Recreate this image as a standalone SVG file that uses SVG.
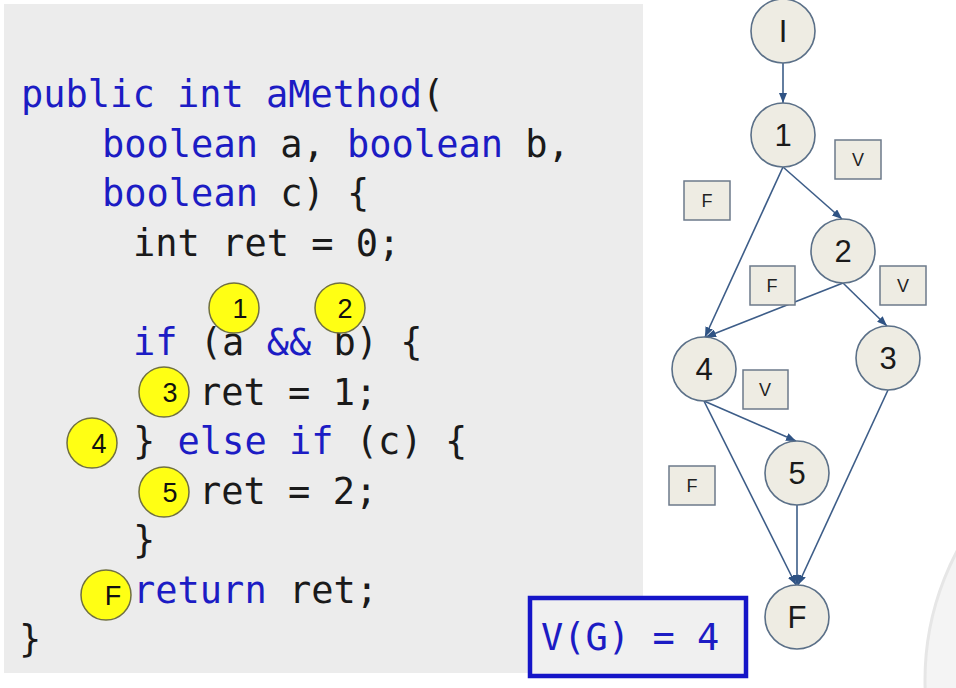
<svg xmlns="http://www.w3.org/2000/svg" width="956" height="688" viewBox="0 0 956 688">
<defs>
<style>
.code{font-family:"DejaVu Sans Mono","Liberation Mono",monospace;font-size:37px;fill:#1a1a1a;}
.kw{fill:#1c1cc4;}
.yc{fill:#ffff14;stroke:#707040;stroke-width:1.5;}
.yt{font-family:"Liberation Sans",Arial,sans-serif;fill:#111;text-anchor:middle;}
.nc{fill:#eeece3;stroke:#5b7088;stroke-width:1.6;}
.nt{font-family:"Liberation Sans",Arial,sans-serif;font-size:31px;fill:#1a1a1a;text-anchor:middle;}
.lb{fill:#eeece3;stroke:#6c7a8a;stroke-width:1.5;}
.lt{font-family:"Liberation Sans",Arial,sans-serif;font-size:18px;fill:#222;text-anchor:middle;}
.ed{stroke:#3d5d88;stroke-width:1.6;fill:none;marker-end:url(#arr);}
</style>
<marker id="arr" viewBox="0 0 10 8" refX="10" refY="4" markerWidth="10" markerHeight="8" markerUnits="userSpaceOnUse" orient="auto">
<path d="M0,0 L10,4 L0,8 Z" fill="#2f5384"/>
</marker>
</defs>
<rect x="0" y="0" width="956" height="688" fill="#ffffff"/>
<circle cx="1200" cy="680" r="275" fill="#f4f4f4" stroke="#e6e6e6" stroke-width="3"/>
<rect x="4" y="4" width="639" height="669" fill="#ececec"/>

<g id="code">
<text class="code" x="21" y="107"><tspan class="kw">public int aMethod</tspan>(</text>
<text class="code" x="102" y="157"><tspan class="kw">boolean</tspan> a, <tspan class="kw">boolean</tspan> b,</text>
<text class="code" x="102" y="206"><tspan class="kw">boolean</tspan> c) {</text>
<text class="code" x="133" y="256">int ret = 0;</text>
<text class="code" x="133" y="355"><tspan class="kw">if</tspan> (a <tspan class="kw">&amp;&amp;</tspan> b) {</text>
<text class="code" x="199" y="405">ret = 1;</text>
<text class="code" x="133" y="454">} <tspan class="kw">else if</tspan> (c) {</text>
<text class="code" x="199" y="504">ret = 2;</text>
<text class="code" x="133" y="553">}</text>
<text class="code" x="133" y="603"><tspan class="kw">return</tspan> ret;</text>
<text class="code" x="19" y="652">}</text>
</g>

<g id="markers">
<g id="m1"><circle class="yc" cx="234" cy="308" r="25"/><text class="yt" font-size="27" x="240" y="318">1</text></g>
<g id="m2"><circle class="yc" cx="340" cy="308" r="25"/><text class="yt" font-size="27" x="345" y="318">2</text></g>
<g id="m3"><circle class="yc" cx="164" cy="392" r="25"/><text class="yt" font-size="27" x="170" y="402">3</text></g>
<g id="m4"><circle class="yc" cx="92" cy="443" r="25"/><text class="yt" font-size="27" x="99" y="453">4</text></g>
<g id="m5"><circle class="yc" cx="164" cy="492" r="25"/><text class="yt" font-size="27" x="170" y="502">5</text></g>
<g id="mF"><circle class="yc" cx="106" cy="595" r="25"/><text class="yt" font-size="27" x="113" y="605">F</text></g>
</g>

<g id="vg">
<rect x="530" y="598" width="216" height="78" fill="#f0f0f0" stroke="#1515c8" stroke-width="4.5"/>
<text class="code" x="541" y="650" style="fill:#1c1cc4">V(G) = 4</text>
</g>

<g id="connectors">
<line class="ed" x1="783" y1="63" x2="783" y2="103"/>
<line class="ed" x1="783" y1="167" x2="842" y2="219"/>
<line class="ed" x1="783" y1="167" x2="705" y2="337"/>
<line class="ed" x1="843" y1="283" x2="706" y2="337"/>
<line class="ed" x1="843" y1="283" x2="887" y2="326"/>
<line class="ed" x1="704" y1="401" x2="796" y2="441"/>
<line class="ed" x1="704" y1="401" x2="796" y2="585"/>
<line class="ed" x1="797" y1="505" x2="797" y2="585"/>
<line class="ed" x1="888" y1="390" x2="798" y2="585"/>
</g>

<g id="nI"><circle class="nc" cx="783" cy="31" r="32"/><text class="nt" x="783" y="42">I</text></g>
<g id="n1"><circle class="nc" cx="783" cy="135" r="32"/><text class="nt" x="783" y="146">1</text></g>
<g id="n2"><circle class="nc" cx="843" cy="251" r="32"/><text class="nt" x="843" y="262">2</text></g>
<g id="n3"><circle class="nc" cx="888" cy="358" r="32"/><text class="nt" x="888" y="369">3</text></g>
<g id="n4"><circle class="nc" cx="704" cy="369" r="32"/><text class="nt" x="704" y="380">4</text></g>
<g id="n5"><circle class="nc" cx="797" cy="473" r="32"/><text class="nt" x="797" y="484">5</text></g>
<g id="nF"><circle class="nc" cx="797" cy="617" r="32"/><text class="nt" x="797" y="628">F</text></g>

<g id="labels">
<g id="l1"><rect class="lb" x="835" y="140" width="46" height="39"/><text class="lt" x="858" y="166">V</text></g>
<g id="l2"><rect class="lb" x="684" y="181" width="46" height="39"/><text class="lt" x="707" y="207">F</text></g>
<g id="l3"><rect class="lb" x="750" y="266" width="45" height="39"/><text class="lt" x="772" y="292">F</text></g>
<g id="l4"><rect class="lb" x="880" y="266" width="46" height="39"/><text class="lt" x="903" y="292">V</text></g>
<g id="l5"><rect class="lb" x="743" y="370" width="45" height="39"/><text class="lt" x="765" y="396">V</text></g>
<g id="l6"><rect class="lb" x="669" y="466" width="46" height="39"/><text class="lt" x="692" y="492">F</text></g>
</g>
</svg>
